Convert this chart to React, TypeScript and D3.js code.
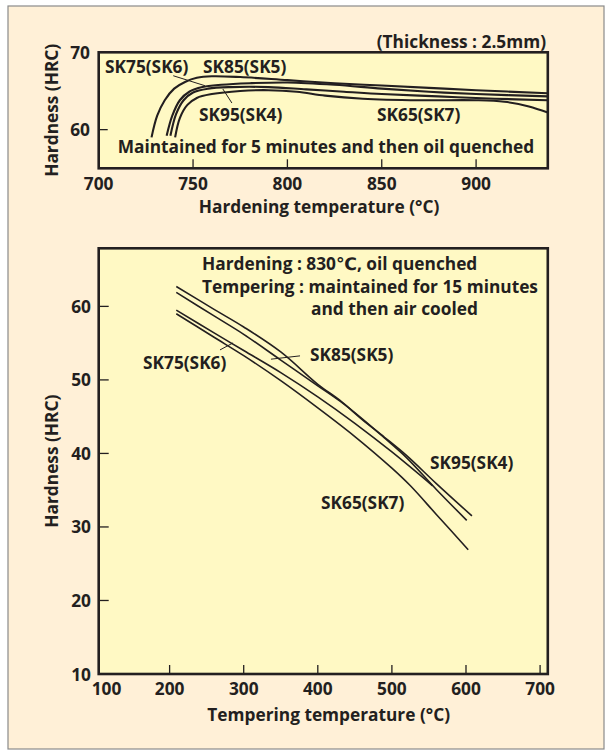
import React from 'react';
import * as d3 from 'd3';

// ---------- Top chart: hardening temperature vs hardness ----------
const topTicksX = [700, 750, 800, 850, 900];
const topTicksY = [60, 70];

const sk85HardT = [728, 731, 735, 740, 746, 752, 760, 775, 800, 825, 850, 875, 900, 938];
const sk85HardH = [59.0, 61.8, 63.8, 65.3, 66.2, 66.7, 66.9, 66.8, 66.4, 66.0, 65.7, 65.4, 65.1, 64.7];

const sk75HardT = [736, 739, 743, 748, 755, 765, 780, 800, 825, 850, 875, 900, 938];
const sk75HardH = [59.2, 61.8, 63.8, 64.9, 65.5, 65.8, 66.0, 66.1, 65.8, 65.3, 64.9, 64.6, 64.3];

const sk95HardT = [738, 741, 745, 750, 758, 770, 790, 810, 830, 850, 880, 910, 938];
const sk95HardH = [59.2, 62.0, 63.8, 64.8, 65.3, 65.5, 65.5, 65.2, 64.9, 64.6, 64.3, 64.0, 63.8];

const sk65HardT = [740.5, 743, 747, 752, 760, 775, 790, 805, 820, 840, 870, 900, 915, 928, 938];
const sk65HardH = [59.0, 61.5, 63.2, 64.1, 64.6, 65.0, 65.1, 64.9, 64.4, 64.0, 63.8, 63.8, 63.6, 63.0, 62.2];

// ---------- Bottom chart: tempering temperature vs hardness ----------
const botTicksX = [100, 200, 300, 400, 500, 600, 700];
const botTicksY = [10, 20, 30, 40, 50, 60];

const sk95TempT = [209, 260, 300, 350, 400, 430, 460, 490, 520, 560, 608];
const sk95TempH = [62.7, 59.6, 57.2, 53.8, 49.4, 47.2, 44.6, 42.2, 39.7, 35.9, 31.5];

const sk85TempT = [209, 260, 300, 350, 400, 430, 460, 490, 520, 560, 601];
const sk85TempH = [61.9, 58.7, 56.2, 52.7, 49.2, 47.1, 44.7, 42.1, 39.4, 35.1, 30.9];

const sk75TempT = [209, 260, 300, 350, 400, 450, 500, 555];
const sk75TempH = [59.5, 56.4, 54.0, 51.0, 47.7, 44.1, 40.2, 35.6];

const sk65TempT = [209, 260, 300, 350, 400, 450, 500, 525, 560, 603];
const sk65TempH = [59.0, 55.8, 53.3, 49.9, 46.2, 42.3, 38.0, 35.6, 31.7, 26.9];

const W = 607;
const H = 756;
const FONT = '"Open Sans", "DejaVu Sans", sans-serif';
const INK = '#231f20';

const zip = (xs: number[], ys: number[]): [number, number][] => xs.map((x, i) => [x, ys[i]]);

export default function App() {
  const fl = 98.7, fr = 547.8;
  const xTop = d3.scaleLinear().domain([700, 938]).range([fl, fr]);
  const yTop = d3.scaleLinear().domain([55, 70]).range([168.3, 52.3]);
  const xBot = d3.scaleLinear().domain([104.3, 710.4]).range([fl, fr]);
  const yBot = d3.scaleLinear().domain([10, 67.9]).range([674, 248.3]);

  const lineTop = d3.line<[number, number]>()
    .x(d => xTop(d[0])).y(d => yTop(d[1]))
    .curve(d3.curveCatmullRom.alpha(0.5));
  const lineBot = d3.line<[number, number]>()
    .x(d => xBot(d[0])).y(d => yBot(d[1]))
    .curve(d3.curveCatmullRom.alpha(0.5));

  const topSeries = [
    zip(sk85HardT, sk85HardH),
    zip(sk75HardT, sk75HardH),
    zip(sk95HardT, sk95HardH),
    zip(sk65HardT, sk65HardH),
  ];
  const botSeries = [
    zip(sk95TempT, sk95TempH),
    zip(sk85TempT, sk85TempH),
    zip(sk75TempT, sk75TempH),
    zip(sk65TempT, sk65TempH),
  ];

  const topLeaders: [number, number, number, number][] = [
    [739.5, 66.97, 756.3, 65.68],
    [765.8, 65.25, 770.6, 63.44],
  ];
  const botLeaders: [number, number, number, number][] = [
    [268, 54.08, 285.6, 55.03],
    [336.8, 52.82, 376, 53.27],
  ];

  const txt = {
    fontFamily: FONT,
    fontWeight: 700,
    fontSize: 17.3,
    fill: INK,
  } as React.CSSProperties;

  const topT = yTop.range()[1], topB = yTop.range()[0];
  const botT = yBot.range()[1], botB = yBot.range()[0];

  return (
    <svg width={W} height={H} style={{ position: 'absolute', left: 0, top: 0 }}>
      <defs>
        <clipPath id="clipTop">
          <rect x={fl} y={topT} width={fr - fl} height={topB - topT} />
        </clipPath>
        <clipPath id="clipBot">
          <rect x={fl} y={botT} width={fr - fl} height={botB - botT} />
        </clipPath>
      </defs>
      <rect x={0} y={0} width={W} height={H} fill="#ffffff" />
      <rect x={8} y={6} width={596} height={743} fill="#fff0d7" stroke="#8a8a8a" strokeWidth={1.2} />

      {/* ----- top chart ----- */}
      <rect x={fl} y={topT} width={fr - fl} height={topB - topT} fill="#fff9c4" />
      <g clipPath="url(#clipTop)">
        {topSeries.map((s, i) => (
          <path key={i} d={lineTop(s) || ''} fill="none" stroke={INK} strokeWidth={2.1} />
        ))}
      </g>
      {topLeaders.map((l, i) => (
        <line key={i} x1={xTop(l[0])} y1={yTop(l[1])} x2={xTop(l[2])} y2={yTop(l[3])} stroke={INK} strokeWidth={1} />
      ))}
      {topTicksX.filter(t => t > 700).map(t => (
        <line key={t} x1={xTop(t)} x2={xTop(t)} y1={topB} y2={topB - 9} stroke={INK} strokeWidth={1.3} />
      ))}
      {topTicksY.filter(t => t < 70).map(t => (
        <line key={t} x1={fl} x2={fl + 9} y1={yTop(t)} y2={yTop(t)} stroke={INK} strokeWidth={1.3} />
      ))}
      <rect x={fl} y={topT} width={fr - fl} height={topB - topT} fill="none" stroke={INK} strokeWidth={2.6} />
      {topTicksX.map(t => (
        <text key={t} x={xTop(t)} y={190} textAnchor="middle" style={txt}>{t}</text>
      ))}
      {topTicksY.map(t => (
        <text key={t} x={90} y={yTop(t) + 6.5} textAnchor="end" style={txt}>{t}</text>
      ))}
      <text x={319} y={213} textAnchor="middle" style={txt}>Hardening temperature (°C)</text>
      <text transform={`translate(58,${(topT + topB) / 2}) rotate(-90)`} textAnchor="middle" style={txt}>Hardness (HRC)</text>
      <text x={546} y={48} textAnchor="end" style={txt}>(Thickness : 2.5mm)</text>
      <text x={326} y={153} textAnchor="middle" style={txt}>Maintained for 5 minutes and then oil quenched</text>
      <text x={105} y={73} style={txt}>SK75(SK6)</text>
      <text x={203} y={73} style={txt}>SK85(SK5)</text>
      <text x={199} y={121} style={txt}>SK95(SK4)</text>
      <text x={377} y={121} style={txt}>SK65(SK7)</text>

      {/* ----- bottom chart ----- */}
      <rect x={fl} y={botT} width={fr - fl} height={botB - botT} fill="#fff9c4" />
      <g clipPath="url(#clipBot)">
        {botSeries.map((s, i) => (
          <path key={i} d={lineBot(s) || ''} fill="none" stroke={INK} strokeWidth={1.6} />
        ))}
      </g>
      {botLeaders.map((l, i) => (
        <line key={i} x1={xBot(l[0])} y1={yBot(l[1])} x2={xBot(l[2])} y2={yBot(l[3])} stroke={INK} strokeWidth={1} />
      ))}
      {botTicksX.filter(t => t > 100).map(t => (
        <line key={t} x1={xBot(t)} x2={xBot(t)} y1={botB} y2={botB - 9} stroke={INK} strokeWidth={1.3} />
      ))}
      {botTicksY.filter(t => t > 10).map(t => (
        <line key={t} x1={fl} x2={fl + 10} y1={yBot(t)} y2={yBot(t)} stroke={INK} strokeWidth={1.3} />
      ))}
      <rect x={fl} y={botT} width={fr - fl} height={botB - botT} fill="none" stroke={INK} strokeWidth={2.6} />
      {botTicksX.map(t => (
        <text key={t} x={t === 100 ? 106.5 : xBot(t)} y={695} textAnchor="middle" style={txt}>{t}</text>
      ))}
      {botTicksY.map(t => (
        <text key={t} x={91} y={yBot(t) + 6.5} textAnchor="end" style={txt}>{t}</text>
      ))}
      <text x={328.7} y={721} textAnchor="middle" style={txt}>Tempering temperature (°C)</text>
      <text transform={`translate(58,${(botT + botB) / 2}) rotate(-90)`} textAnchor="middle" style={txt}>Hardness (HRC)</text>
      <text x={202} y={270} style={txt}>Hardening : 830℃, oil quenched</text>
      <text x={202} y={293} style={txt}>Tempering : maintained for 15 minutes</text>
      <text x={311} y={315} style={txt}>and then air cooled</text>
      <text x={143} y={369} style={txt}>SK75(SK6)</text>
      <text x={310} y={361} style={txt}>SK85(SK5)</text>
      <text x={430} y={469} style={txt}>SK95(SK4)</text>
      <text x={321} y={509} style={txt}>SK65(SK7)</text>
    </svg>
  );
}
